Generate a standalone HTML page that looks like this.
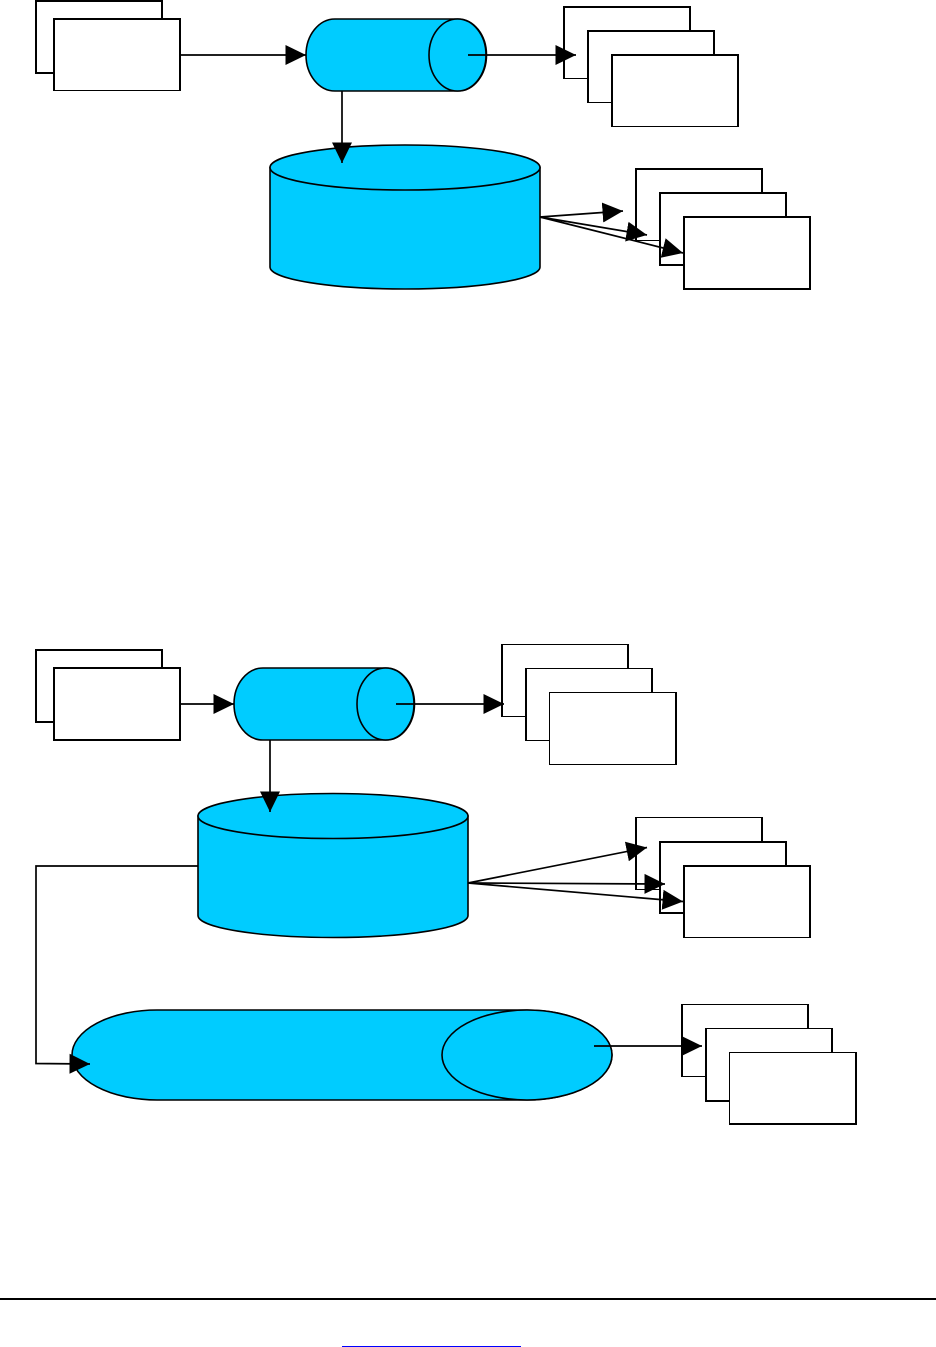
<!DOCTYPE html>
<html>
<head>
<meta charset="utf-8">
<style>
html,body{margin:0;padding:0;background:#fff;width:936px;height:1347px;overflow:hidden;position:relative}
svg{display:block;position:absolute;left:0;top:0}
b{position:absolute;display:block;box-sizing:border-box;background:#fff;border:2px solid #000}
.t1{border-top-width:1px}
.b1{border-bottom-width:1px}
.l1{border-left-width:1px}
.c{fill:#00CCFF;stroke:#000;stroke-width:1.6}
.l{fill:none;stroke:#000;stroke-width:1.7}
.a{fill:#000;stroke:none}
</style>
</head>
<body>
<!-- Diagram 1 boxes -->
<b style="left:35px;top:0;width:128px;height:74px"></b>
<b class="b1" style="left:53px;top:18px;width:128px;height:73px"></b>
<b class="b1" style="left:563px;top:6px;width:128px;height:73px"></b>
<b class="b1" style="left:587px;top:30px;width:128px;height:73px"></b>
<b class="b1" style="left:611px;top:54px;width:128px;height:73px"></b>
<b class="b1" style="left:635px;top:168px;width:128px;height:73px"></b>
<b style="left:659px;top:192px;width:128px;height:74px"></b>
<b style="left:683px;top:216px;width:128px;height:74px"></b>
<!-- Diagram 2 boxes -->
<b style="left:35px;top:649px;width:128px;height:74px"></b>
<b style="left:53px;top:667px;width:128px;height:74px"></b>
<b class="t1 b1" style="left:501px;top:644px;width:128px;height:73px"></b>
<b class="t1 b1" style="left:525px;top:668px;width:128px;height:73px"></b>
<b class="t1 b1 l1" style="left:549px;top:692px;width:128px;height:73px"></b>
<b class="t1 b1" style="left:635px;top:817px;width:128px;height:73px"></b>
<b style="left:659px;top:841px;width:128px;height:73px"></b>
<b class="b1" style="left:683px;top:865px;width:128px;height:73px"></b>
<b class="t1 b1" style="left:681px;top:1004px;width:128px;height:73px"></b>
<b class="t1" style="left:705px;top:1028px;width:128px;height:74px"></b>
<b class="t1 l1" style="left:729px;top:1052px;width:128px;height:73px"></b>

<svg width="936" height="1347" viewBox="0 0 936 1347" xmlns="http://www.w3.org/2000/svg">
<defs>
<marker id="m" markerUnits="userSpaceOnUse" markerWidth="22" markerHeight="22" refX="20.5" refY="10.5" orient="auto">
<path class="a" d="M0,0.5 L20.5,10.5 L0,20.5 Z"/>
</marker>
</defs>

<!-- Diagram 1 -->
<path class="c" d="M335,19 H458 A28.5,36 0 0 1 458,91 H335 A29,36 0 0 1 335,19 Z"/>
<ellipse class="c" cx="457.5" cy="55" rx="28.5" ry="36"/>

<path class="c" d="M270,167.5 V267 A135,22 0 0 0 540,267 V167.5 Z"/>
<ellipse class="c" cx="405" cy="167.5" rx="135" ry="22.5"/>

<line class="l" x1="180" y1="55" x2="306" y2="55" marker-end="url(#m)"/>
<line class="l" x1="342" y1="91" x2="342" y2="163" marker-end="url(#m)"/>
<line class="l" x1="468" y1="55" x2="576" y2="55" marker-end="url(#m)"/>
<line class="l" x1="540" y1="217" x2="623" y2="211" marker-end="url(#m)"/>
<line class="l" x1="540" y1="217" x2="647" y2="235" marker-end="url(#m)"/>
<line class="l" x1="540" y1="217" x2="683" y2="253" marker-end="url(#m)"/>

<!-- Diagram 2 -->
<path class="c" d="M263,668 H386 A28.5,36 0 0 1 386,740 H263 A29,36 0 0 1 263,668 Z"/>
<ellipse class="c" cx="385.5" cy="704" rx="28.5" ry="36"/>

<path class="c" d="M198,816 V915.5 A135,22 0 0 0 468,915.5 V816 Z"/>
<ellipse class="c" cx="333" cy="816" rx="135" ry="22.5"/>

<path class="c" d="M157,1010 H527 A85,45 0 0 1 527,1100 H157 A85,45 0 0 1 157,1010 Z"/>
<ellipse class="c" cx="527" cy="1055" rx="85" ry="45"/>

<line class="l" x1="180" y1="704" x2="234" y2="704" marker-end="url(#m)"/>
<line class="l" x1="396" y1="704" x2="504" y2="704" marker-end="url(#m)"/>
<line class="l" x1="270" y1="740" x2="270" y2="812" marker-end="url(#m)"/>
<line class="l" x1="468" y1="883" x2="647" y2="847.5" marker-end="url(#m)"/>
<line class="l" x1="468" y1="883" x2="665" y2="884" marker-end="url(#m)"/>
<line class="l" x1="468" y1="883" x2="683" y2="901.5" marker-end="url(#m)"/>
<path class="l" d="M198,866 H36 V1063.5 L90,1064" marker-end="url(#m)"/>
<line class="l" x1="594" y1="1046" x2="702" y2="1046" marker-end="url(#m)"/>

<!-- Footer -->
<rect x="0" y="1298" width="936" height="2" fill="#000"/>
<rect x="342" y="1346" width="179" height="1" fill="#0000ff"/>
</svg>
</body>
</html>
